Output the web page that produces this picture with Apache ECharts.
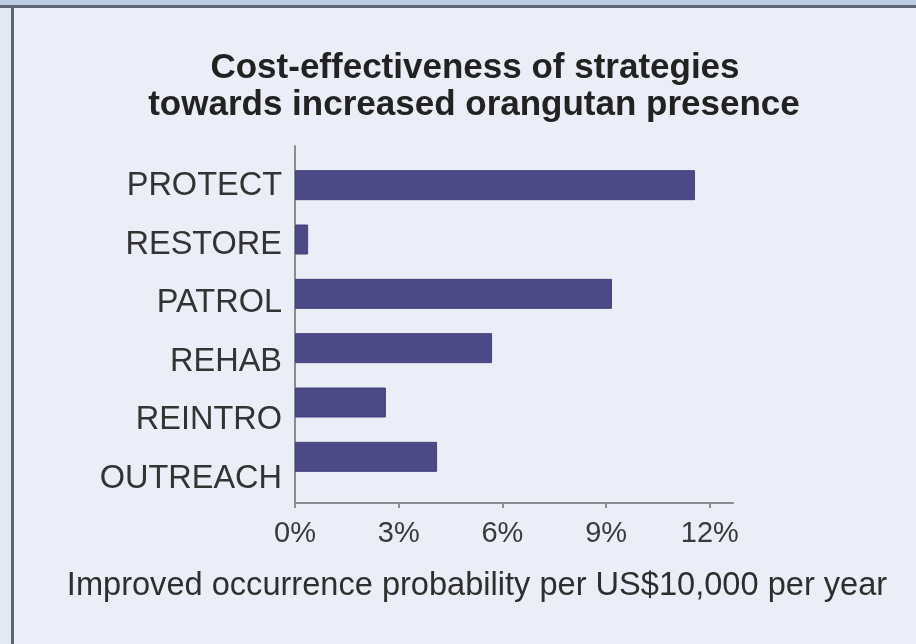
<!DOCTYPE html>
<html>
<head>
<meta charset="utf-8">
<script src="https://cdn.jsdelivr.net/npm/echarts@6/dist/echarts.min.js"></script>
<style>
  html, body { margin: 0; padding: 0; background: #ebeef6; }
  #wrap { position: relative; width: 916px; height: 644px; overflow: hidden; background: #ebeef6; }
  #chart { position: absolute; left: 0; top: 0; width: 916px; height: 644px; }
  .topband { position: absolute; left: 0; top: 0; width: 916px; height: 5px; background: #bccbe4; }
  .topline { position: absolute; left: 0; top: 5px; width: 916px; height: 3px; background: #5c6372; }
  .leftband { position: absolute; left: 0; top: 8px; width: 11px; height: 636px; background: #e4e9f3; }
  .leftline { position: absolute; left: 11px; top: 8px; width: 3px; height: 636px; background: #5f6672; }
</style>
</head>
<body>
<div id="wrap">
  <div id="chart"></div>
  <div class="topband"></div>
  <div class="topline"></div>
  <div class="leftband"></div>
  <div class="leftline"></div>
</div>
<script>
const categories = ['PROTECT', 'RESTORE', 'PATROL', 'REHAB', 'REINTRO', 'OUTREACH'];
const values = [11.57, 0.38, 9.17, 5.70, 2.63, 4.11];
const tickValues = [0, 3, 6, 9, 12];
const titleLines = ['Cost-effectiveness of strategies', 'towards increased orangutan presence'];
const axisName = 'Improved occurrence probability per US$10,000 per year';

const chart = echarts.init(document.getElementById('chart'), null, { renderer: 'canvas' });
const FONT = '"Liberation Sans", Arial, Helvetica, sans-serif';
const XMAX = 12.67;

chart.setOption({
  backgroundColor: 'transparent',
  animation: false,
  textStyle: { fontFamily: FONT },
  graphic: [
    { type: 'text', x: 475, y: 68, style: { text: titleLines[0], font: 'bold 35px ' + FONT, fill: '#222222', textAlign: 'center', textVerticalAlign: 'middle' } },
    { type: 'text', x: 474, y: 105, style: { text: titleLines[1], font: 'bold 35px ' + FONT, fill: '#222222', textAlign: 'center', textVerticalAlign: 'middle' } },
    { type: 'text', x: 477, y: 586, style: { text: axisName, font: '32.6px ' + FONT, fill: '#2e2e2e', textAlign: 'center', textVerticalAlign: 'middle' } }
  ],
  grid: [
    { left: 295, right: 183, top: 146, bottom: 141, containLabel: false },
    { left: 295, right: 183, top: 158, bottom: 160, containLabel: false },
    { left: 295, right: 183, top: 157, bottom: 136, containLabel: false }
  ],
  xAxis: [
    {
      gridIndex: 0, type: 'value', min: 0, max: XMAX,
      axisLine: { show: true, lineStyle: { color: '#8c8c90', width: 2 } },
      axisTick: { show: true, length: 5, customValues: tickValues, lineStyle: { color: '#8c8c90', width: 2 } },
      axisLabel: { show: true, customValues: tickValues, formatter: v => v + '%', fontSize: 29, color: '#3a3a3a', margin: 16, fontFamily: FONT },
      splitLine: { show: false }
    },
    { gridIndex: 1, type: 'value', min: 0, max: XMAX, show: false },
    { gridIndex: 2, type: 'value', min: 0, max: XMAX, show: false }
  ],
  yAxis: [
    {
      gridIndex: 0, type: 'value', min: 0, max: 1,
      axisLine: { show: true, onZero: false, lineStyle: { color: '#8c8c90', width: 2 } },
      axisTick: { show: false }, axisLabel: { show: false }, splitLine: { show: false }
    },
    {
      gridIndex: 1, type: 'category', data: categories, inverse: true,
      axisLine: { show: false }, axisTick: { show: false }, axisLabel: { show: false }, splitLine: { show: false }
    },
    {
      gridIndex: 2, type: 'category', data: categories, inverse: true,
      axisLine: { show: false }, axisTick: { show: false },
      axisLabel: { fontSize: 32.5, color: '#333333', margin: 13, fontFamily: FONT },
      splitLine: { show: false }
    }
  ],
  series: [
    {
      type: 'bar', xAxisIndex: 1, yAxisIndex: 1, data: values, barWidth: 30,
      itemStyle: { color: '#4b4986', borderColor: '#45437b', borderWidth: 1 }
    }
  ]
});
</script>
</body>
</html>
